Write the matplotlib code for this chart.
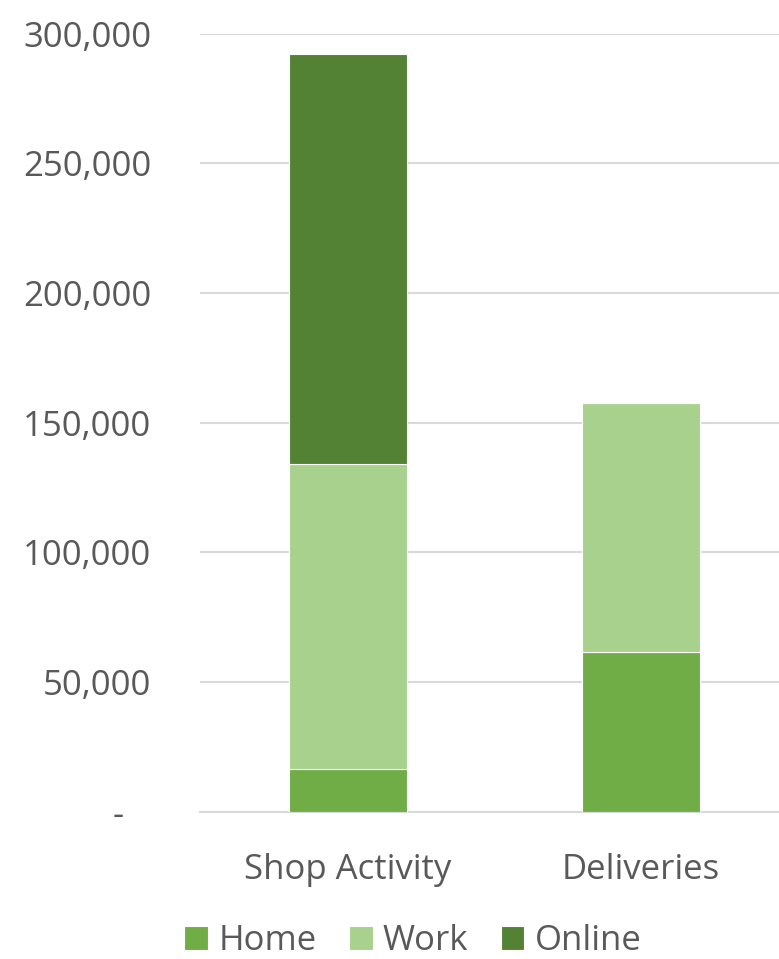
import matplotlib
matplotlib.use("Agg")
import matplotlib.pyplot as plt
import numpy as np

categories = ["Shop Activity", "Deliveries"]
series_names = ["Home", "Work", "Online"]
home = [16500, 61700]
work = [117500, 96000]
online = [158000, 0]
colors = ["#70AD47", "#A9D18E", "#548235"]
yticks = [0, 50000, 100000, 150000, 200000, 250000, 300000]
ytick_labels = ["-   ", "50,000", "100,000", "150,000", "200,000", "250,000", "300,000"]

plt.rcParams['font.family'] = ['Open Sans', 'DejaVu Sans']
fig = plt.figure(figsize=(7.79, 9.59), dpi=100)
ax = fig.add_axes([200/779, 1-811.7/959, 579/779, 778/959])

x = np.arange(len(categories))
w = 0.403
bottom = np.zeros(len(categories))
for name, vals, c in zip(series_names, [home, work, online], colors):
    vals = np.array(vals, dtype=float)
    ax.bar(x, vals, w, bottom=bottom, color=c, label=name, edgecolor="white", linewidth=0.8, zorder=3)
    bottom += vals

ax.set_xlim(-0.505, 1.471)
ax.set_ylim(0, 300000)
ax.set_yticks(yticks)
ax.set_yticklabels(ytick_labels)
ax.set_xticks(x)
ax.set_xticklabels(categories)
ax.grid(axis="y", color="#D9D9D9", linewidth=1.5, zorder=0)
for s in ["top", "right", "left"]:
    ax.spines[s].set_visible(False)
ax.spines["bottom"].set_color("#D9D9D9")
ax.spines["bottom"].set_linewidth(1.5)
ax.tick_params(axis="both", length=0, labelsize=25, colors="#595959")
ax.tick_params(axis="y", pad=35)
ax.tick_params(axis="x", pad=30)

leg = fig.legend(loc="center", bbox_to_anchor=(413/779, 1-941/959), ncol=3, frameon=False,
                 fontsize=25, handlelength=0.68, handleheight=0.68, handletextpad=0.3,
                 columnspacing=0.93, labelcolor="#595959")
fig.savefig("out.png", dpi=100)
